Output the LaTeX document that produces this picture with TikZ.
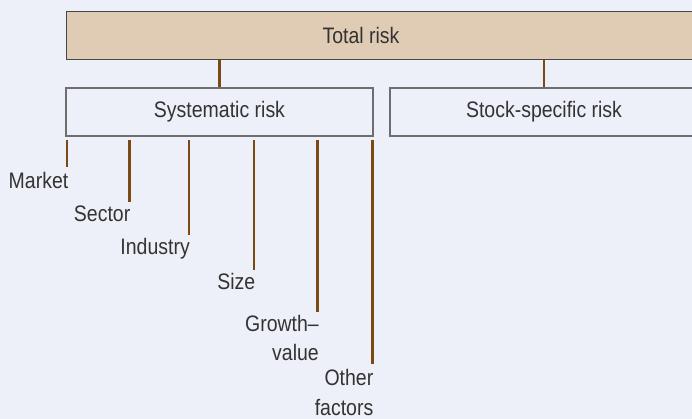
\documentclass[tikz,border=0pt]{standalone}
\usepackage{fontspec}
\setmainfont{Liberation Sans}[FakeStretch=0.87]
\begin{document}
\definecolor{pagebg}{HTML}{EDF0F8}
\definecolor{tan}{HTML}{E0CCB4}
\definecolor{branch}{HTML}{7A4A12}
\definecolor{ink}{HTML}{333333}
\definecolor{frame}{HTML}{6E6E6E}
\begin{tikzpicture}[x=1pt,y=-1pt,
  every node/.style={font=\fontsize{22.4}{29.3}\selectfont, text=ink},
  topbox/.style={draw=ink!90, line width=1.2pt, fill=tan, minimum height=48pt, inner sep=0pt, anchor=north west},
  riskbox/.style={draw=frame, line width=1.3pt, fill=pagebg, minimum height=48pt, inner sep=0pt},
  stem/.style={draw=branch, line width=2.4pt},
  factor/.style={anchor=north east, inner sep=0pt, align=right}]
  % background and frame
  \fill[pagebg] (0,0) rectangle (692,419);
  \useasboundingbox (0,0) rectangle (692,419);
  \clip (0,0) rectangle (692,419);

  % top level
  \node[topbox, minimum width=680pt] (totalbox) at (66,11) {};
  \node[inner sep=0pt] (total) at (361,35) {Total risk};

  % second level
  \node[riskbox, minimum width=307pt] (sys) at (219.5,112) {Systematic risk};
  \node[riskbox, minimum width=308pt] (spec) at (544,112) {Stock-specific risk};

  \draw[stem] (totalbox.south -| sys.north) -- (sys.north);
  \draw[stem] (totalbox.south -| spec.north) -- (spec.north);

  % end points of the factor stems
  \coordinate (e1) at (67,167);
  \coordinate (e2) at (129.5,202.5);
  \coordinate (e3) at (189,235);
  \coordinate (e4) at (254,270);
  \coordinate (e5) at (317.5,312);
  \coordinate (e6) at (372.5,363.5);

  % factor labels, hung just below the stem ends
  \node[factor] (market)   at ([shift={(1.5,5.5)}]e1) {Market};
  \node[factor] (sector)   at ([shift={(1,3.3)}]e2) {Sector};
  \node[factor] (industry) at ([shift={(1,3.3)}]e3) {Industry};
  \node[factor] (size)     at ([shift={(1.5,2.7)}]e4) {Size};
  \node[factor] (growth)   at ([shift={(1.5,3)}]e5) {Growth–\\value};
  \node[factor] (other)    at ([shift={(1,6)}]e6) {Other\\factors};

  % factor stems hanging from the systematic box
  \foreach \e in {e1,e2,e3,e4,e5,e6}
    \draw[stem] ([yshift=-3.5pt]sys.south -| \e) -- (\e);
\end{tikzpicture}
\end{document}
